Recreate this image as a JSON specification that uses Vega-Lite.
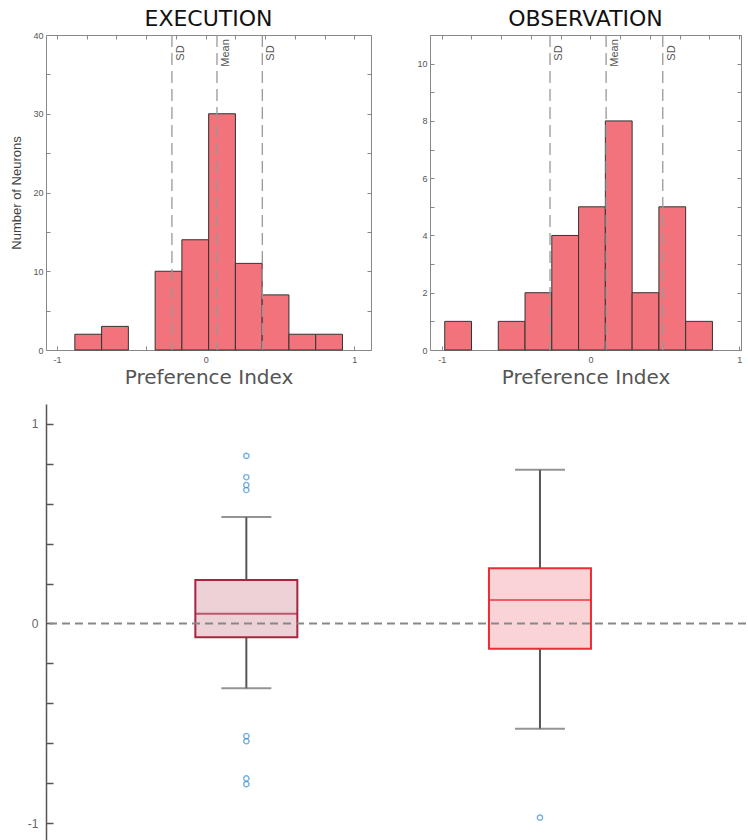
{
  "$schema": "https://vega.github.io/schema/vega-lite/v6.json",
  "padding": {"left": 10, "top": 7, "right": 0, "bottom": 0},
  "background": "white",
  "config": {"view": {"stroke": null}, "font": "Liberation Sans"},
  "datasets": {
    "exec_hist": [
      {"bin_start": -0.88, "bin_end": -0.70, "count": 2},
      {"bin_start": -0.70, "bin_end": -0.52, "count": 3},
      {"bin_start": -0.34, "bin_end": -0.16, "count": 10},
      {"bin_start": -0.16, "bin_end": 0.02, "count": 14},
      {"bin_start": 0.02, "bin_end": 0.20, "count": 30},
      {"bin_start": 0.20, "bin_end": 0.38, "count": 11},
      {"bin_start": 0.38, "bin_end": 0.56, "count": 7},
      {"bin_start": 0.56, "bin_end": 0.74, "count": 2},
      {"bin_start": 0.74, "bin_end": 0.92, "count": 2}
    ],
    "obs_hist": [
      {"bin_start": -0.98, "bin_end": -0.80, "count": 1},
      {"bin_start": -0.62, "bin_end": -0.44, "count": 1},
      {"bin_start": -0.44, "bin_end": -0.26, "count": 2},
      {"bin_start": -0.26, "bin_end": -0.08, "count": 4},
      {"bin_start": -0.08, "bin_end": 0.10, "count": 5},
      {"bin_start": 0.10, "bin_end": 0.28, "count": 8},
      {"bin_start": 0.28, "bin_end": 0.46, "count": 2},
      {"bin_start": 0.46, "bin_end": 0.64, "count": 5},
      {"bin_start": 0.64, "bin_end": 0.82, "count": 1}
    ],
    "exec_lines": [
      {"value": -0.227, "label": "SD"},
      {"value": 0.076, "label": "Mean"},
      {"value": 0.381, "label": "SD"}
    ],
    "obs_lines": [
      {"value": -0.272, "label": "SD"},
      {"value": 0.105, "label": "Mean"},
      {"value": 0.486, "label": "SD"}
    ],
    "box": [
      {"cond": "Execution", "lower": -0.325, "q1": -0.069, "median": 0.049, "q3": 0.218, "upper": 0.534},
      {"cond": "Observation", "lower": -0.527, "q1": -0.126, "median": 0.118, "q3": 0.277, "upper": 0.771}
    ],
    "outliers": [
      {"cond": "Execution", "value": 0.840},
      {"cond": "Execution", "value": 0.733},
      {"cond": "Execution", "value": 0.694},
      {"cond": "Execution", "value": 0.669},
      {"cond": "Execution", "value": -0.564},
      {"cond": "Execution", "value": -0.590},
      {"cond": "Execution", "value": -0.776},
      {"cond": "Execution", "value": -0.805},
      {"cond": "Observation", "value": -0.973}
    ]
  },
  "bounds": "flush",
  "spacing": 369,
  "vconcat": [
    {
      "bounds": "flush",
      "spacing": 59,
      "hconcat": [
        {
          "width": 325,
          "height": 315,
          "view": {"stroke": "#888", "strokeWidth": 1},
          "title": {"text": "EXECUTION", "font": "DejaVu Sans", "fontSize": 22, "fontWeight": "normal", "color": "#111", "offset": 0, "anchor": "middle"},
          "resolve": {"axis": {"x": "independent", "y": "independent"}},
          "layer": [
            {
              "data": {"name": "exec_hist"},
              "mark": {"type": "bar", "fill": "#f2737b", "stroke": "#333", "strokeWidth": 1},
              "encoding": {
                "x": {"field": "bin_start", "type": "quantitative",
                  "scale": {"domain": [-1.074, 1.112], "nice": false, "zero": false},
                  "axis": {"orient": "bottom", "values": [-1, -0.8, -0.6, -0.4, -0.2, 0, 0.2, 0.4, 0.6, 0.8, 1],
                    "labelExpr": "datum.value == 0 ? '0' : datum.value == 1 ? '1' : datum.value == -1 ? '-1' : ''",
                    "domain": false, "grid": false, "tickSize": -4, "tickColor": "#888", "labelFontSize": 9, "labelColor": "#555",
                    "labelPadding": 9, "labelFlush": false, "labelOverlap": false,
                    "title": "Preference Index", "titleFont": "DejaVu Sans", "titleFontSize": 20, "titleFontWeight": "normal", "titleColor": "#555", "titlePadding": 3}},
                "x2": {"field": "bin_end"},
                "y": {"field": "count", "type": "quantitative",
                  "scale": {"domain": [0, 40], "nice": false},
                  "axis": {"orient": "left", "values": [0, 5, 10, 15, 20, 25, 30, 35, 40],
                    "labelExpr": "datum.value % 10 == 0 ? datum.label : ''",
                    "domain": false, "grid": false, "tickSize": -4, "tickColor": "#888", "labelFontSize": 9, "labelColor": "#555",
                    "labelPadding": 7, "labelOverlap": false,
                    "title": "Number of Neurons", "titleFont": "Liberation Sans Narrow, Liberation Sans", "titleFontSize": 13, "titleFontWeight": "normal", "titleColor": "#444", "titlePadding": 9}},
                "y2": {"datum": 0}
              }
            },
            {
              "data": {"name": "exec_lines"},
              "mark": {"type": "rule", "stroke": "#999", "strokeDash": [12, 6], "strokeWidth": 1.3},
              "encoding": {
                "x": {"field": "value", "type": "quantitative",
                  "axis": {"orient": "top", "values": [-1, -0.8, -0.6, -0.4, -0.2, 0, 0.2, 0.4, 0.6, 0.8, 1], "labels": false, "domain": false, "grid": false, "tickSize": -4, "tickColor": "#888", "title": null}}
              }
            },
            {
              "data": {"name": "exec_lines"},
              "mark": {"type": "text", "angle": 270, "align": "center", "baseline": "top", "dx": -18, "dy": 3, "font": "Liberation Sans Narrow, Liberation Sans", "fontSize": 11, "color": "#555"},
              "encoding": {
                "x": {"field": "value", "type": "quantitative", "axis": null},
                "y": {"datum": 40, "type": "quantitative",
                  "axis": {"orient": "right", "values": [0, 5, 10, 15, 20, 25, 30, 35, 40], "labels": false, "domain": false, "grid": false, "tickSize": -4, "tickColor": "#888", "title": null}},
                "text": {"field": "label"}
              }
            }
          ]
        },
        {
          "width": 311,
          "height": 315,
          "view": {"stroke": "#888", "strokeWidth": 1},
          "title": {"text": "OBSERVATION", "font": "DejaVu Sans", "fontSize": 22, "fontWeight": "normal", "color": "#111", "offset": 0, "anchor": "middle"},
          "resolve": {"axis": {"x": "independent", "y": "independent"}},
          "layer": [
            {
              "data": {"name": "obs_hist"},
              "mark": {"type": "bar", "fill": "#f2737b", "stroke": "#333", "strokeWidth": 1},
              "encoding": {
                "x": {"field": "bin_start", "type": "quantitative",
                  "scale": {"domain": [-1.079, 1.012], "nice": false, "zero": false},
                  "axis": {"orient": "bottom", "values": [-1, -0.8, -0.6, -0.4, -0.2, 0, 0.2, 0.4, 0.6, 0.8, 1],
                    "labelExpr": "datum.value == 0 ? '0' : datum.value == 1 ? '1' : datum.value == -1 ? '-1' : ''",
                    "domain": false, "grid": false, "tickSize": -4, "tickColor": "#888", "labelFontSize": 9, "labelColor": "#555",
                    "labelPadding": 9, "labelFlush": false, "labelOverlap": false,
                    "title": "Preference Index", "titleFont": "DejaVu Sans", "titleFontSize": 20, "titleFontWeight": "normal", "titleColor": "#555", "titlePadding": 3}},
                "x2": {"field": "bin_end"},
                "y": {"field": "count", "type": "quantitative",
                  "scale": {"domain": [0, 11], "nice": false},
                  "axis": {"orient": "left", "values": [0, 1, 2, 3, 4, 5, 6, 7, 8, 9, 10, 11],
                    "labelExpr": "datum.value % 2 == 0 && datum.value <= 10 ? datum.label : ''",
                    "domain": false, "grid": false, "tickSize": -4, "tickColor": "#888", "labelFontSize": 9, "labelColor": "#555",
                    "labelPadding": 7, "labelOverlap": false, "title": null}},
                "y2": {"datum": 0}
              }
            },
            {
              "data": {"name": "obs_lines"},
              "mark": {"type": "rule", "stroke": "#999", "strokeDash": [12, 6], "strokeWidth": 1.3},
              "encoding": {
                "x": {"field": "value", "type": "quantitative",
                  "axis": {"orient": "top", "values": [-1, -0.8, -0.6, -0.4, -0.2, 0, 0.2, 0.4, 0.6, 0.8, 1], "labels": false, "domain": false, "grid": false, "tickSize": -4, "tickColor": "#888", "title": null}}
              }
            },
            {
              "data": {"name": "obs_lines"},
              "mark": {"type": "text", "angle": 270, "align": "center", "baseline": "top", "dx": -18, "dy": 3, "font": "Liberation Sans Narrow, Liberation Sans", "fontSize": 11, "color": "#555"},
              "encoding": {
                "x": {"field": "value", "type": "quantitative", "axis": null},
                "y": {"datum": 11, "type": "quantitative",
                  "axis": {"orient": "right", "values": [0, 1, 2, 3, 4, 5, 6, 7, 8, 9, 10, 11], "labels": false, "domain": false, "grid": false, "tickSize": -4, "tickColor": "#888", "title": null}},
                "text": {"field": "label"}
              }
            }
          ]
        }
      ]
    },
    {
      "width": 700,
      "height": 437,
      "layer": [
        {
          "data": {"name": "box"},
          "mark": {"type": "rule", "color": "#555", "strokeWidth": 2},
          "encoding": {
            "x": {"field": "cond", "type": "nominal", "scale": {"type": "point", "padding": 0.692, "align": 0.493}, "axis": null},
            "y": {"field": "lower", "type": "quantitative",
              "scale": {"domain": [-1.09, 1.1], "nice": false, "zero": false},
              "axis": {"values": [-1, -0.8, -0.6, -0.4, -0.2, 0, 0.2, 0.4, 0.6, 0.8, 1],
                "labelExpr": "datum.value == 1 ? '1' : datum.value == 0 ? '0' : datum.value == -1 ? '-1' : ''",
                "domain": true, "domainColor": "#555", "domainWidth": 1.5, "tickColor": "#555", "tickSize": -7, "tickWidth": 1.5,
                "labelFontSize": 12, "labelColor": "#666", "labelPadding": 15, "labelOverlap": false, "grid": false, "title": null}},
            "y2": {"field": "upper"}
          }
        },
        {
          "data": {"name": "box"},
          "mark": {"type": "tick", "size": 50, "thickness": 2, "color": "#666"},
          "encoding": {
            "x": {"field": "cond", "type": "nominal"},
            "y": {"field": "lower", "type": "quantitative"}
          }
        },
        {
          "data": {"name": "box"},
          "mark": {"type": "tick", "size": 50, "thickness": 2, "color": "#666"},
          "encoding": {
            "x": {"field": "cond", "type": "nominal"},
            "y": {"field": "upper", "type": "quantitative"}
          }
        },
        {
          "data": {"name": "box"},
          "mark": {"type": "bar", "width": 102, "strokeWidth": 2},
          "encoding": {
            "x": {"field": "cond", "type": "nominal"},
            "y": {"field": "q1", "type": "quantitative"},
            "y2": {"field": "q3"},
            "fill": {"field": "cond", "type": "nominal", "scale": {"domain": ["Execution", "Observation"], "range": ["#ecd1d7", "#f9d3d6"]}, "legend": null},
            "stroke": {"field": "cond", "type": "nominal", "scale": {"domain": ["Execution", "Observation"], "range": ["#a8243f", "#ee2b35"]}, "legend": null}
          }
        },
        {
          "data": {"name": "box"},
          "mark": {"type": "tick", "size": 102, "thickness": 2},
          "encoding": {
            "x": {"field": "cond", "type": "nominal"},
            "y": {"field": "median", "type": "quantitative"},
            "color": {"field": "cond", "type": "nominal", "scale": {"domain": ["Execution", "Observation"], "range": ["#a8243f", "#ee2b35"]}, "legend": null}
          }
        },
        {
          "data": {"name": "outliers"},
          "mark": {"type": "point", "shape": "circle", "filled": false, "stroke": "#3b8fd3", "strokeWidth": 1.4, "size": 28},
          "encoding": {
            "x": {"field": "cond", "type": "nominal"},
            "y": {"field": "value", "type": "quantitative"}
          }
        },
        {
          "data": {"values": [{"zero": 0}]},
          "mark": {"type": "rule", "stroke": "#888", "strokeDash": [8, 5], "strokeWidth": 2},
          "encoding": {
            "y": {"field": "zero", "type": "quantitative"}
          }
        }
      ]
    }
  ]
}
